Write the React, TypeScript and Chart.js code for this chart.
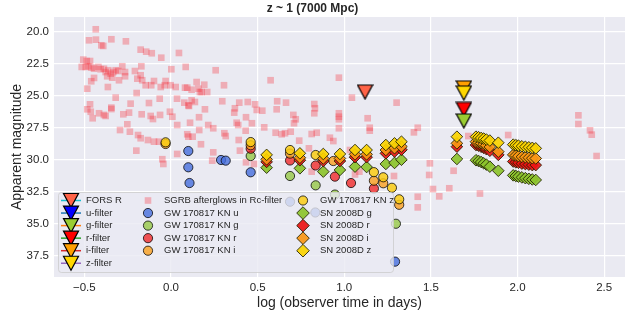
import React, { useEffect, useRef } from 'react';
import { Chart, registerables } from 'chart.js';

Chart.register(...registerables);

const FONT = '"Liberation Sans", Arial, "DejaVu Sans", sans-serif';
const TEXT = '#262626';

const titleText = 'z ~ 1 (7000 Mpc)';
const xLabel = 'log (observer time in days)';
const yLabel = 'Apparent magnitude';
const xTicks = [-0.5, 0, 0.5, 1, 1.5, 2, 2.5];
const yTicks = [20, 22.5, 25, 27.5, 30, 32.5, 35, 37.5];
const xRange = [-0.675, 2.62];
const yRange = [18.83, 39.14];

// Filter limits (triangles): [log t, mag]
const forsR = [[1.12, 24.69]];
const uFilter: number[][] = [];
const gFilter = [[1.69, 26.95]];
const rFilter = [[1.69, 26.05]];
const iFilter = [[1.69, 24.37]];
const zFilter = [[1.69, 24.77]];

// SGRB afterglows in Rc-filter: [log t, mag]
const sgrb = [
  [-0.434, 19.79], [-0.473, 20.65], [-0.433, 20.6], [-0.344, 20.57], [-0.26, 20.73], [-0.402, 21.04], [-0.391, 21.09],
  [-0.175, 21.38], [-0.143, 21.54], [-0.111, 21.66], [-0.056, 22.01], [0.046, 21.64],
  [-0.506, 22.16], [-0.486, 22.27], [-0.467, 22.27], [-0.515, 22.73], [-0.492, 22.73], [-0.477, 22.68], [-0.458, 22.79],
  [-0.444, 22.87], [-0.419, 22.73], [-0.406, 22.91], [-0.387, 22.87], [-0.377, 23.13], [-0.362, 22.99], [-0.348, 23.26],
  [-0.333, 23.13], [-0.319, 22.99], [-0.304, 23.05], [-0.281, 22.68], [-0.265, 23.13], [-0.265, 23.46], [-0.3, 23.77],
  [-0.339, 23.57], [-0.368, 23.46], [-0.444, 23.59], [-0.46, 23.85], [-0.483, 24.43], [-0.364, 24.3], [-0.319, 25.13],
  [-0.467, 25.65], [-0.344, 25.91], [-0.233, 25.6], [-0.198, 24.77], [-0.208, 23.05], [-0.175, 23.38], [-0.171, 22.68],
  [-0.194, 23.65], [-0.166, 23.77], [-0.146, 24.16], [-0.114, 24.16], [-0.098, 23.83], [-0.059, 24.3], [-0.031, 23.83],
  [-0.002, 24.16], [0.027, 24.3], [-0.036, 24.16], [-0.065, 25.21], [-0.127, 25.55], [0.035, 25.21], [0.002, 22.91],
  [0.085, 22.73], [0.258, 22.99], [0.306, 24.16], [0.575, 23.77], [0.148, 23.91], [0.192, 24.12], [0.081, 24.35],
  [0.094, 24.35], [0.119, 24.51], [0.158, 24.43], [0.167, 24.69], [0.177, 24.69], [0.209, 24.69], [0.119, 25.34],
  [0.138, 25.47], [0.1, 25.73], [0.077, 25.52], [0.296, 25.41], [0.394, 25.52], [0.443, 25.47], [0.485, 25.65],
  [0.613, 25.41], [0.664, 25.52], [0.369, 25.96], [0.365, 26.3],
  [-0.483, 26.04], [-0.463, 26.23], [-0.452, 26.74], [-0.415, 26.35], [-0.387, 26.48], [-0.377, 26.56], [-0.344, 26.02],
  [-0.275, 26.43], [-0.242, 26.3], [-0.117, 26.56], [-0.104, 26.8], [-0.006, 26.23], [0.008, 26.62], [0.036, 27.27],
  [-0.252, 27.21], [-0.294, 27.66], [-0.237, 27.79], [-0.19, 28.05], [-0.175, 28.3], [-0.133, 28.44], [-0.098, 28.57],
  [-0.069, 28.57], [-0.2, 29.27], [-0.05, 29.94], [-0.044, 30.31], [0.036, 29.53], [-0.063, 26.48], [-0.169, 26.43],
  [0.104, 25.78], [0.196, 26.04], [0.11, 27.09], [0.215, 27.27], [0.163, 27.66], [0.094, 27.99], [0.1, 28.18],
  [0.125, 28.18], [0.173, 28.77], [0.244, 29.4], [0.238, 30.05], [0.495, 26.09], [0.527, 26.15], [0.379, 27.09],
  [0.388, 27.27], [0.431, 27.71], [0.398, 29.27], [0.433, 30.18], [0.479, 30.31], [0.538, 27.45], [0.61, 26.04],
  [0.604, 27.87], [0.639, 27.99], [0.658, 27.91], [0.691, 27.79], [0.71, 27.13], [0.706, 26.48], [0.72, 26.82],
  [0.308, 27.91], [0.316, 28.13], [0.162, 26.66], [0.244, 27.52], [0.433, 26.66], [0.391, 28.44], [0.467, 27.13],
  [0.74, 28.49], [0.812, 27.97], [0.841, 27.87], [0.796, 29.09], [0.827, 25.63], [0.831, 25.96], [0.827, 26.35],
  [0.969, 23.57], [1.044, 25.13], [0.969, 26.35], [0.969, 26.62], [0.969, 26.82], [1.135, 26.74], [0.969, 27.52],
  [1.147, 27.48], [1.147, 27.71], [1.302, 25.52], [1.424, 27.48], [1.402, 27.84], [0.917, 28.26], [0.937, 28.52],
  [1.033, 29.22], [1.716, 28.13], [1.946, 28.05], [2.351, 26.51], [2.351, 27.19], [2.418, 27.68], [2.428, 28.02],
  [2.456, 29.69], [1.494, 30.26], [1.49, 31.17], [1.512, 32.27], [1.548, 32.84], [1.606, 32.21], [1.631, 30.84],
  [1.783, 32.62], [1.424, 32.87], [1.424, 33.7], [1.287, 31.25], [1.062, 31.13], [1.087, 30.91], [0.812, 30.91],
];

// GW 170817 kilonova: [log t, mag]
const knU = [[0.1, 29.3], [0.1, 30.57], [0.107, 31.8], [0.289, 30.0], [0.316, 30.05], [0.46, 30.96], [0.687, 33.26], [0.833, 34.1], [1.293, 37.94]];
const knG = [[0.46, 29.69], [0.687, 31.25], [0.835, 31.98], [0.946, 32.7], [1.298, 34.98]];
const knR = [[0.46, 29.12], [0.687, 30.04], [0.835, 30.43], [0.946, 31.3], [1.039, 31.8], [1.171, 32.23]];
const knI = [[-0.031, 28.75], [0.46, 28.85], [0.687, 29.5], [0.937, 30.08], [1.171, 31.62], [1.225, 31.82], [1.317, 33.5]];
const knZ = [[-0.031, 28.62], [0.46, 28.6], [0.687, 29.22], [0.835, 29.61], [1.171, 30.95], [1.225, 31.35], [1.275, 32.17], [1.317, 33.07]];

// SN 2008D: epochs (log t) and magnitudes per filter
const snT = [0.552, 0.744, 0.879, 0.975, 1.062, 1.129, 1.24, 1.29, 1.33, 1.65, 1.76, 1.775, 1.79, 1.805, 1.82, 1.84, 1.889, 1.975, 1.99, 2.005, 2.025, 2.045, 2.065, 2.085, 2.105];
const snZ = [29.6, 29.48, 29.53, 29.53, 29.22, 29.22, 28.83, 28.7, 28.57, 28.18, 28.18, 28.22, 28.28, 28.33, 28.4, 28.48, 28.65, 28.8, 28.84, 28.88, 28.93, 28.97, 29.01, 29.05, 29.09];
const snI = [29.95, 29.82, 29.88, 29.88, 29.56, 29.56, 29.22, 29.08, 28.95, 28.7, 28.57, 28.62, 28.7, 28.78, 28.86, 28.98, 29.35, 29.6, 29.65, 29.7, 29.75, 29.78, 29.82, 29.86, 29.88];
const snR = [30.15, 30.02, 30.08, 30.08, 29.78, 29.78, 29.48, 29.34, 29.2, 28.96, 28.83, 28.88, 28.97, 29.05, 29.15, 29.28, 29.6, 30.12, 30.18, 30.22, 30.28, 30.32, 30.36, 30.4, 30.4];
const snG = [30.6, 30.65, 30.91, 30.78, 30.52, 30.55, 30.31, 30.23, 29.98, 29.92, 30.02, 30.08, 30.16, 30.26, 30.36, 30.52, 30.84, 31.2, 31.25, 31.3, 31.36, 31.42, 31.47, 31.52, 31.56];

const legendCol1 = ['FORS R', 'u-filter', 'g-filter', 'r-filter', 'i-filter', 'z-filter'];
const legendCol2 = ['SGRB afterglows in Rc-filter', 'GW 170817 KN u', 'GW 170817 KN g', 'GW 170817 KN r', 'GW 170817 KN i'];
const legendCol3 = ['GW 170817 KN z', 'SN 2008D g', 'SN 2008D r', 'SN 2008D i', 'SN 2008D z'];

const triFill = ['#ff6347', '#0000ff', '#9acd32', '#ff0000', '#ff9f00', '#ffd700'];
const triLine = ['#17becf', '#1f77b4', '#ff7f0e', '#2ca02c', '#d62728', '#9467bd'];
const sgrbColor = 'rgba(245,45,55,0.32)';
const knColors = ['rgba(70,110,220,0.8)', 'rgba(150,200,70,0.8)', 'rgba(240,30,30,0.75)', 'rgba(250,160,30,0.8)', 'rgba(250,205,20,0.85)'];
const snColors = ['rgba(140,195,45,0.92)', 'rgba(235,20,20,0.92)', 'rgba(250,150,20,0.92)', 'rgba(250,210,0,0.92)'];
const knEdge = 'rgba(0,0,0,0.75)';
const snEdge = 'rgba(30,30,0,0.85)';

function triPath(ctx: CanvasRenderingContext2D, cx: number, cy: number, w: number, h: number, fill: string) {
  ctx.beginPath();
  ctx.moveTo(cx - w / 2, cy - h / 2);
  ctx.lineTo(cx + w / 2, cy - h / 2);
  ctx.lineTo(cx, cy + h / 2);
  ctx.closePath();
  ctx.fillStyle = fill;
  ctx.fill();
  ctx.lineWidth = 1.2;
  ctx.strokeStyle = '#000';
  ctx.stroke();
}

function diamond(ctx: CanvasRenderingContext2D, cx: number, cy: number, r: number, fill: string, edge: string) {
  ctx.beginPath();
  ctx.moveTo(cx - r, cy);
  ctx.lineTo(cx, cy - r);
  ctx.lineTo(cx + r, cy);
  ctx.lineTo(cx, cy + r);
  ctx.closePath();
  ctx.fillStyle = fill;
  ctx.fill();
  ctx.lineWidth = 1;
  ctx.strokeStyle = edge;
  ctx.stroke();
}

function circle(ctx: CanvasRenderingContext2D, cx: number, cy: number, r: number, fill: string, edge: string) {
  ctx.beginPath();
  ctx.arc(cx, cy, r, 0, Math.PI * 2);
  ctx.fillStyle = fill;
  ctx.fill();
  ctx.lineWidth = 1;
  ctx.strokeStyle = edge;
  ctx.stroke();
}

const bgPlugin = {
  id: 'bgArea',
  beforeDraw(chart: any) {
    const { ctx, chartArea: a } = chart;
    ctx.save();
    ctx.fillStyle = '#eaeaf2';
    ctx.fillRect(a.left, a.top, a.width, a.height);
    ctx.restore();
  },
};

const legendPlugin = {
  id: 'boxLegend',
  afterDraw(chart: any) {
    const { ctx, chartArea: a } = chart;
    const L = a.left + 4;
    const T = a.bottom - 85;
    const W = 335;
    const H = 80;
    ctx.save();
    ctx.beginPath();
    if ((ctx as any).roundRect) (ctx as any).roundRect(L + 0.5, T + 0.5, W, H, 3);
    else ctx.rect(L + 0.5, T + 0.5, W, H);
    ctx.fillStyle = 'rgba(234,234,242,0.8)';
    ctx.fill();
    ctx.strokeStyle = 'rgba(204,204,204,0.8)';
    ctx.lineWidth = 1;
    ctx.stroke();

    const rowY = (i: number) => T + 8.5 + i * 12.55;
    ctx.font = `9.5px ${FONT}`;
    ctx.textBaseline = 'middle';
    ctx.textAlign = 'left';

    legendCol1.forEach((lab, i) => {
      const y = rowY(i);
      ctx.beginPath();
      ctx.moveTo(L + 3, y);
      ctx.lineTo(L + 23, y);
      ctx.strokeStyle = triLine[i];
      ctx.lineWidth = 1.5;
      ctx.stroke();
      triPath(ctx, L + 13, y, 15, 14, triFill[i]);
      ctx.fillStyle = TEXT;
      ctx.fillText(lab, L + 28, y);
    });

    legendCol2.forEach((lab, i) => {
      const y = rowY(i);
      const cx = L + 90;
      if (i === 0) {
        ctx.fillStyle = sgrbColor;
        ctx.fillRect(cx - 3.3, y - 3.3, 6.6, 6.6);
      } else {
        circle(ctx, cx, y, 4.6, knColors[i - 1], knEdge);
      }
      ctx.fillStyle = TEXT;
      ctx.fillText(lab, L + 106, y);
    });

    legendCol3.forEach((lab, i) => {
      const y = rowY(i);
      const cx = L + 245;
      if (i === 0) circle(ctx, cx, y, 4.6, knColors[4], knEdge);
      else diamond(ctx, cx, y, 6.3, snColors[i - 1], snEdge);
      ctx.fillStyle = TEXT;
      ctx.fillText(lab, L + 262, y);
    });
    ctx.restore();
  },
};

const fmtX = (v: number) => (v < 0 ? '\u2212' + Math.abs(v).toFixed(1) : v.toFixed(1));

export default function App() {
  const ref = useRef<HTMLCanvasElement>(null);

  useEffect(() => {
    const canvas = ref.current;
    if (!canvas) return;

    const triImg = (fill: string) => {
      const c = document.createElement('canvas');
      c.width = 17;
      c.height = 16;
      const g = c.getContext('2d')!;
      triPath(g, 8.5, 8, 15, 14, fill);
      return c;
    };
    const pts = (arr: number[][]) => arr.map(([x, y]) => ({ x, y }));
    const zip = (t: number[], m: number[]) => t.map((x, i) => ({ x, y: m[i] }));

    const tri = (label: string, data: number[][], idx: number, order: number) => ({
      label,
      data: pts(data),
      pointStyle: triImg(triFill[idx]),
      pointRadius: 8,
      order,
    });
    const kn = (label: string, data: number[][], idx: number, order: number) => ({
      label,
      data: pts(data),
      pointStyle: 'circle',
      pointRadius: 4.6,
      backgroundColor: knColors[idx],
      borderColor: knEdge,
      borderWidth: 1,
      order,
    });
    const sn = (label: string, mags: number[], idx: number, order: number) => ({
      label,
      data: zip(snT, mags),
      pointStyle: 'rectRot',
      pointRadius: 5.8,
      backgroundColor: snColors[idx],
      borderColor: snEdge,
      borderWidth: 1,
      order,
    });

    const chart = new Chart(canvas, {
      type: 'scatter',
      data: {
        datasets: [
          {
            label: 'SGRB afterglows in Rc-filter',
            data: pts(sgrb),
            pointStyle: 'rect',
            pointRadius: 4.7,
            backgroundColor: sgrbColor,
            borderWidth: 0,
            order: 30,
          } as any,
          kn('GW 170817 KN u', knU, 0, 25),
          kn('GW 170817 KN g', knG, 1, 24),
          kn('GW 170817 KN r', knR, 2, 23),
          kn('GW 170817 KN i', knI, 3, 22),
          kn('GW 170817 KN z', knZ, 4, 21),
          sn('SN 2008D g', snG, 0, 15),
          sn('SN 2008D r', snR, 1, 14),
          sn('SN 2008D i', snI, 2, 13),
          sn('SN 2008D z', snZ, 3, 12),
          tri('FORS R', forsR, 0, 6),
          tri('u-filter', uFilter, 1, 5),
          tri('i-filter', iFilter, 4, 4),
          tri('z-filter', zFilter, 5, 3),
          tri('r-filter', rFilter, 3, 2),
          tri('g-filter', gFilter, 2, 1),
        ],
      },
      options: {
        animation: false,
        responsive: false,
        devicePixelRatio: 1,
        events: [],
        layout: { padding: { left: 0, right: 17, top: 0, bottom: 0 } },
        plugins: {
          legend: { display: false },
          tooltip: { enabled: false },
          title: {
            display: true,
            text: titleText,
            color: TEXT,
            font: { family: FONT, size: 12, weight: 'bold' },
            padding: { top: 1, bottom: 1.6 },
          },
        },
        scales: {
          x: {
            type: 'linear',
            min: xRange[0],
            max: xRange[1],
            afterBuildTicks: (s: any) => {
              s.ticks = xTicks.map((v) => ({ value: v }));
            },
            afterFit: (s: any) => {
              s.height = 35;
            },
            grid: { color: '#ffffff', lineWidth: 1.2, drawTicks: false },
            border: { display: false },
            ticks: {
              color: TEXT,
              font: { family: FONT, size: 11.5 },
              padding: 4,
              maxRotation: 0,
              autoSkip: false,
              callback: (v: any) => fmtX(Number(v)),
            },
            title: {
              display: true,
              text: xLabel,
              color: TEXT,
              font: { family: FONT, size: 14 },
              padding: { top: 0, bottom: 0.6 },
            },
          },
          y: {
            type: 'linear',
            reverse: true,
            min: yRange[0],
            max: yRange[1],
            afterBuildTicks: (s: any) => {
              s.ticks = yTicks.map((v) => ({ value: v }));
            },
            afterFit: (s: any) => {
              s.width = 54;
            },
            grid: { color: '#ffffff', lineWidth: 1.2, drawTicks: false },
            border: { display: false },
            ticks: {
              color: TEXT,
              font: { family: FONT, size: 11.5 },
              padding: 5,
              autoSkip: false,
              callback: (v: any) => Number(v).toFixed(1),
            },
            title: {
              display: true,
              text: yLabel,
              color: TEXT,
              font: { family: FONT, size: 14 },
              padding: { top: 9, bottom: 0 },
            },
          },
        },
      } as any,
      plugins: [bgPlugin, legendPlugin],
    });

    return () => chart.destroy();
  }, []);

  return (
    <div style={{ position: 'fixed', left: 0, top: 0, width: 642, height: 312, background: '#fff' }}>
      <canvas ref={ref} width={642} height={312} style={{ display: 'block', width: 642, height: 312 }} />
    </div>
  );
}
